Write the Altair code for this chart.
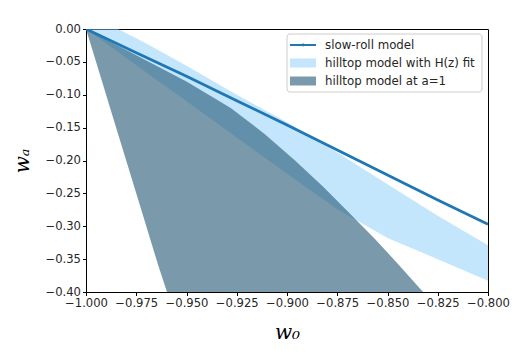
import altair as alt
import pandas as pd

# slow-roll model line
sr_w0 = [-1.0, -0.975, -0.95, -0.925, -0.9, -0.875, -0.85, -0.825, -0.8]
sr_wa = [0.0, -0.036, -0.072, -0.109, -0.146, -0.184, -0.222, -0.260, -0.297]

# hilltop model with H(z) fit (band)
hz_w0 = [-1.0, -0.984, -0.97, -0.95, -0.925, -0.9, -0.875, -0.85, -0.825, -0.8]
hz_upper = [0.0, 0.0, -0.022, -0.056, -0.100, -0.142, -0.188, -0.236, -0.284, -0.329]
hz_lower = [0.0, -0.035, -0.066, -0.110, -0.165, -0.220, -0.274, -0.318, -0.350, -0.383]

# hilltop model at a=1 (region, bounded left/right in w0 for each wa)
dk_wa = [0.0, -0.04, -0.08, -0.12, -0.16, -0.20, -0.24, -0.28, -0.32, -0.36, -0.40]
dk_left = [-1.0, -0.996, -0.992, -0.988, -0.984, -0.980, -0.976, -0.972, -0.968, -0.964, -0.9597]
dk_right = [-1.0, -0.975, -0.950, -0.928, -0.911, -0.896, -0.882, -0.869, -0.856, -0.844, -0.8323]

x_ticks = [-1.0, -0.975, -0.95, -0.925, -0.9, -0.875, -0.85, -0.825, -0.8]
y_ticks = [0.0, -0.05, -0.10, -0.15, -0.20, -0.25, -0.30, -0.35, -0.40]

legend_labels = ["slow-roll model", "hilltop model with H(z) fit", "hilltop model at a=1"]

C_LINE = "#1f77b4"
C_LIGHT = "#87cefa"
C_DARK = "#215773"

W, H = 402, 263

xscale = alt.Scale(domain=[-1.0, -0.8], nice=False, zero=False)
yscale = alt.Scale(domain=[-0.4, 0.0], nice=False, zero=False)

xaxis = alt.Axis(values=x_ticks, format=".3f", title="w₀", titleY=46, titleBaseline="alphabetic",
                 labelOverlap=False, labelFlush=False)
yaxis = alt.Axis(values=y_ticks, format=".2f", title="wₐ", titlePadding=12,
                 labelOverlap=False, labelFlush=False)

sr = pd.DataFrame({"w0": sr_w0, "wa": sr_wa})
hz = pd.DataFrame({"w0": hz_w0, "up": hz_upper, "lo": hz_lower})
dk = pd.DataFrame({"wa": dk_wa, "left": dk_left, "right": dk_right})

band = alt.Chart(hz).mark_area(color=C_LIGHT, opacity=0.5, clip=True, orient="vertical").encode(
    x=alt.X("w0:Q", scale=xscale, axis=xaxis),
    y=alt.Y("up:Q", scale=yscale, axis=yaxis),
    y2="lo:Q",
)

dark = alt.Chart(dk).mark_area(color=C_DARK, opacity=0.6, clip=True, orient="horizontal").encode(
    y=alt.Y("wa:Q", scale=yscale, axis=yaxis),
    x=alt.X("left:Q", scale=xscale, axis=xaxis),
    x2="right:Q",
)

line = alt.Chart(sr).mark_line(color=C_LINE, strokeWidth=2.8, clip=True).encode(
    x=alt.X("w0:Q", scale=xscale, axis=xaxis),
    y=alt.Y("wa:Q", scale=yscale, axis=yaxis),
)

# legend (decoration, pixel positions relative to plot area)
LX0, LX1, LY0, LY1 = 201, 396, 5, 63
ROW0, DROW = 16, 18
SX0, SX1, TX = 204, 230, 239

layers = [band, dark, line]
box = alt.Chart(pd.DataFrame({"k": [0]})).mark_rect(
    fill="white", fillOpacity=0.8, stroke="#cccccc", strokeWidth=1, cornerRadius=3
).encode(x=alt.value(LX0), x2=alt.value(LX1), y=alt.value(LY0), y2=alt.value(LY1))
layers.append(box)

styles = [(C_LINE, 1.0), (C_LIGHT, 0.5), (C_DARK, 0.6)]
for i, lab in enumerate(legend_labels):
    yc = ROW0 + i * DROW
    d = pd.DataFrame({"label": [lab]})
    col, op = styles[i]
    if i == 0:
        layers.append(alt.Chart(d).mark_rule(color=col, strokeWidth=2).encode(
            x=alt.value(SX0), x2=alt.value(SX1), y=alt.value(yc)))
        layers.append(alt.Chart(d).mark_point(filled=True, color=col, size=8, opacity=1).encode(
            x=alt.value((SX0 + SX1) / 2), y=alt.value(yc)))
    else:
        layers.append(alt.Chart(d).mark_rect(color=col, opacity=op).encode(
            x=alt.value(SX0), x2=alt.value(SX1), y=alt.value(yc - 4.5), y2=alt.value(yc + 4.5)))
    layers.append(alt.Chart(d).mark_text(
        align="left", baseline="middle", font="DejaVu Sans", fontSize=11.8, color="#262626"
    ).encode(text="label:N", x=alt.value(TX), y=alt.value(yc)))

chart = alt.layer(*layers).properties(
    width=W, height=H,
    autosize=alt.AutoSizeParams(type="none"),
    padding={"left": 86, "top": 29, "right": 32, "bottom": 65},
).configure_view(
    stroke="black", strokeWidth=1
).configure_axis(
    grid=False,
    domainColor="black", domainWidth=1,
    tickColor="black", tickSize=3.5, tickWidth=1,
    labelFont="DejaVu Sans", labelFontSize=11.6, labelColor="#262626", labelPadding=2,
    labelOverlap=False, labelFlush=False,
    titleFont="DejaVu Serif", titleFontStyle="italic", titleFontWeight="normal",
    titleFontSize=20, titleColor="black",
)

chart.save("out.html", embed_options={"renderer": "svg", "actions": False})
